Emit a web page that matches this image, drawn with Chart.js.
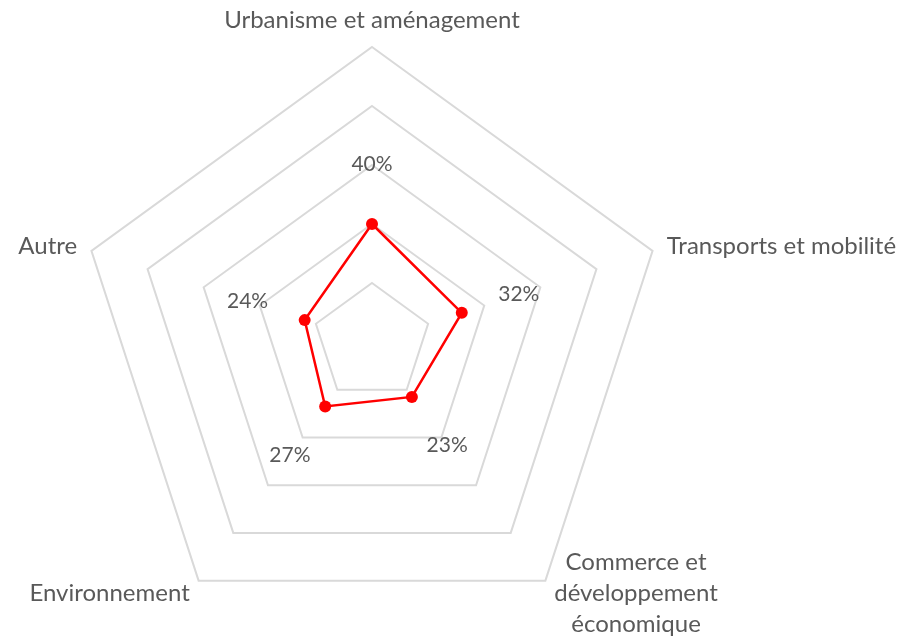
<!DOCTYPE html>
<html>
<head>
<meta charset="utf-8">
<script src="https://cdn.jsdelivr.net/npm/chart.js@4"></script>
<style>
  html, body { margin: 0; padding: 0; background: #fff; }
  #wrap { width: 908px; height: 640px; position: relative; }
</style>
</head>
<body>
<div id="wrap"><canvas id="radar"></canvas></div>
<script>
// categories, clockwise from the top
const categories = [
    ['Urbanisme et aménagement'],
    ['Transports et mobilité'],
    ['Commerce et', 'développement', 'économique'],
    ['Environnement'],
    ['Autre']
];
const shares = [40, 32, 23, 27, 24];   // percent
const scaleTicks = [0, 20, 40, 60, 80, 100];

const textColor = '#595959';
const fontFamily = 'Lato, "Open Sans", sans-serif';

// how each category label sits around its anchor point
const labelAlign = [
    { align: 'center', base: 'bottom' },
    { align: 'left', base: 'middle' },
    { align: 'block', base: 'middle' },
    { align: 'right', base: 'middle' },
    { align: 'right', base: 'middle' }
];

const labelsPlugin = {
    id: 'radarLabels',
    afterDatasetsDraw(chart) {
        const scale = chart.scales.r;
        const ctx = chart.ctx;
        const outer = scale.drawingArea;
        ctx.save();
        ctx.fillStyle = textColor;
        ctx.font = '24px ' + fontFamily;

        // category names outside the outer ring
        categories.forEach((lines, i) => {
            const pos = scale.getPointPosition(i, outer + 15);
            const a = labelAlign[i];
            const lh = 31;
            if (a.align === 'block') {
                const w = Math.max(...lines.map(l => ctx.measureText(l).width));
                const cx = pos.x + w / 2;
                const top = pos.y - (lines.length - 1) * lh / 2;
                ctx.textAlign = 'center';
                ctx.textBaseline = 'middle';
                lines.forEach((l, k) => ctx.fillText(l, cx, top + k * lh));
            } else {
                ctx.textAlign = a.align;
                ctx.textBaseline = a.base;
                lines.forEach((l, k) => ctx.fillText(l, pos.x, pos.y + k * lh));
            }
        });

        // value labels, pushed outward from each point
        ctx.font = '21px ' + fontFamily;
        ctx.textAlign = 'center';
        ctx.textBaseline = 'middle';
        shares.forEach((v, i) => {
            const r = scale.getDistanceFromCenterForValue(v) + 60;
            const pos = scale.getPointPosition(i, r);
            ctx.fillText(v + '%', pos.x, pos.y);
        });
        ctx.restore();
    }
};

new Chart(document.getElementById('radar'), {
    type: 'radar',
    data: {
        labels: categories,
        datasets: [{
            label: 'Part',
            data: shares,
            borderColor: '#ff0000',
            backgroundColor: '#ff0000',
            borderWidth: 2.5,
            pointRadius: 6,
            pointHoverRadius: 6,
            pointBackgroundColor: '#ff0000',
            pointBorderWidth: 0,
            fill: false,
            tension: 0
        }]
    },
    options: {
        responsive: true,
        maintainAspectRatio: false,
        animation: false,
        layout: { padding: { top: 47, bottom: 3, left: 0, right: 164 } },
        plugins: {
            legend: { display: false },
            tooltip: { enabled: false }
        },
        scales: {
            r: {
                min: scaleTicks[0],
                max: scaleTicks[scaleTicks.length - 1],
                afterBuildTicks: (s) => { s.ticks = scaleTicks.map(v => ({ value: v })); },
                ticks: { display: false },
                grid: { color: '#d9d9d9', lineWidth: 2 },
                angleLines: { display: false },
                pointLabels: { display: false }
            }
        }
    },
    plugins: [labelsPlugin]
});
</script>
</body>
</html>
